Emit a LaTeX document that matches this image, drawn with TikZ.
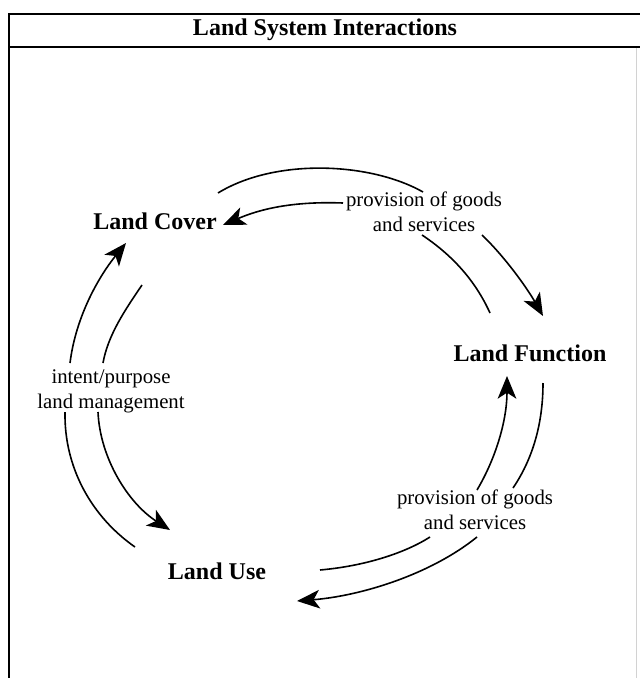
\documentclass[tikz,border=0pt]{standalone}
\usepackage{fontspec}
\setmainfont{Liberation Serif}
\usetikzlibrary{arrows.meta}
\begin{document}
\begin{tikzpicture}[x=0.75pt,y=-0.75pt,
  frameline/.style={line width=1.4pt},
  headtext/.style={font=\bfseries\fontsize{18}{21}\selectfont},
  keynode/.style={font=\bfseries\fontsize{18}{21}\selectfont, inner sep=1pt},
  flowlabel/.style={font=\fontsize{15.6}{18.8}\selectfont, align=center, inner sep=1pt},
  arc/.style={line width=1.2pt},
  arcarrow/.style={line width=1.2pt, -{Stealth[length=17pt,width=14pt,inset=4.5pt]}}
]
\useasboundingbox (0,0) rectangle (639,678);
% frame
\draw[frameline] (9,14) -- (642,14);
\draw[frameline] (9,47) -- (642,47);
\draw[frameline] (9,13) -- (9,682);
\draw[gray!35, line width=0.6pt] (636,48) -- (636,682);
\node[headtext] (title) at (325,30) {Land System Interactions};

% main nodes
\node[keynode] (cover) at (155,221) {Land Cover};
\node[keynode] (func) at (530,353) {Land Function};
\node[keynode] (use) at (217,571) {Land Use};

% labels
\node[flowlabel] (ltop) at (424,212) {provision of goods\\and services};
\node[flowlabel] (lleft) at (111,391) {intent/purpose\\land management};
\node[flowlabel] (lbot) at (475,510) {provision of goods\\and services};

% arc end coordinates
\coordinate (a1) at (218,193);
\coordinate (a2) at (423,192);
\coordinate (a3) at (482,235);
\coordinate (a4) at (543,316);

\coordinate (c1) at (490,313);
\coordinate (c2) at (422,235);
\coordinate (c3) at (343,203);
\coordinate (c4) at (223,225);

\coordinate (e1) at (135,547);
\coordinate (e2) at (65,412);
\coordinate (e3) at (70,363);
\coordinate (e4) at (126,243);

\coordinate (g1) at (142,285);
\coordinate (g2) at (103,363);
\coordinate (g3) at (98,412);
\coordinate (g4) at (170,530);

\coordinate (i1) at (320,570);
\coordinate (i2) at (430,537);
\coordinate (i3) at (477,490);
\coordinate (i4) at (507,376);

\coordinate (k1) at (543,383);
\coordinate (k2) at (513,488);
\coordinate (k3) at (477,537);
\coordinate (k4) at (297,601);

% top: Land Cover -> Land Function
\draw[arc] (a1) .. controls (275,158) and (370,162) .. (a2);
\draw[arcarrow] (a3) .. controls (505,257) and (527,288) .. (a4);
% top: Land Function -> Land Cover
\draw[arc] (c1) .. controls (475,280) and (452,255) .. (c2);
\draw[arcarrow] (c3) .. controls (290,201) and (258,210) .. (c4);

% left: Land Use -> Land Cover
\draw[arc] (e1) .. controls (92,517) and (64,468) .. (e2);
\draw[arcarrow] (e3) .. controls (76,315) and (100,275) .. (e4);
% left: Land Cover -> Land Use
\draw[arc] (g1) .. controls (125,310) and (108,335) .. (g2);
\draw[arcarrow] (g3) .. controls (100,458) and (128,503) .. (g4);

% bottom right: Land Use -> Land Function
\draw[arc] (i1) .. controls (365,566) and (405,553) .. (i2);
\draw[arcarrow] (i3) .. controls (496,458) and (507,420) .. (i4);
% bottom right: Land Function -> Land Use
\draw[arc] (k1) .. controls (543,425) and (532,460) .. (k2);
\draw[arcarrow] (k3) .. controls (430,575) and (360,596) .. (k4);
\end{tikzpicture}
\end{document}
